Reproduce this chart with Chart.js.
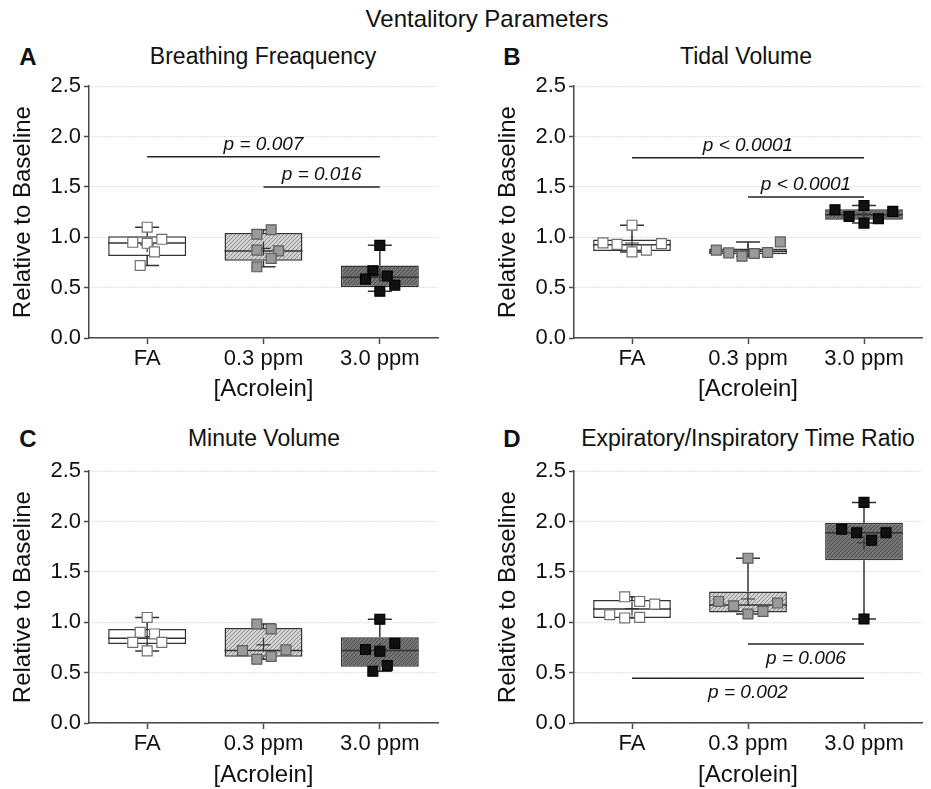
<!DOCTYPE html>
<html>
<head>
<meta charset="utf-8">
<title>Ventalitory Parameters</title>
<script src="https://cdn.jsdelivr.net/npm/chart.js@4.4.1/dist/chart.umd.min.js"></script>
<style>
    html, body { margin: 0; padding: 0; background: #fff; }
    body {
        width: 931px; height: 789px; position: relative; overflow: hidden;
        font-family: "Liberation Sans", Arial, sans-serif; color: #111;
    }
    .lbl    { position: absolute; transform: translate(-50%, -50%); line-height: 1; white-space: nowrap; }
    .main   { font-size: 24px; }
    .ptitle { font-size: 23px; }
    .letter { font-size: 24px; font-weight: bold; }
    .panel  { position: absolute; }
    .panel canvas { display: block; }
</style>
</head>
<body>

<div class="lbl main" style="left:487px; top:19px;">Ventalitory Parameters</div>

<div class="lbl letter" style="left:28px;  top:57px;">A</div>
<div class="lbl ptitle" style="left:263px; top:56px;">Breathing Freaquency</div>
<div class="lbl letter" style="left:512px; top:57px;">B</div>
<div class="lbl ptitle" style="left:746px; top:56px;">Tidal Volume</div>
<div class="lbl letter" style="left:28px;  top:439px;">C</div>
<div class="lbl ptitle" style="left:264px; top:438px;">Minute Volume</div>
<div class="lbl letter" style="left:512px; top:439px;">D</div>
<div class="lbl ptitle" style="left:748px; top:438px;">Expiratory/Inspiratory Time Ratio</div>

<div class="panel" style="left:0;     top:70px;"><canvas id="chartA" width="450" height="334"></canvas></div>
<div class="panel" style="left:485px; top:70px;"><canvas id="chartB" width="446" height="334"></canvas></div>
<div class="panel" style="left:0;     top:455px;"><canvas id="chartC" width="450" height="335"></canvas></div>
<div class="panel" style="left:485px; top:455px;"><canvas id="chartD" width="446" height="335"></canvas></div>

<script>
'use strict';

// ── dados ───────────────────────────────────────────────────────────────────
const GROUPS = ['FA', '0.3 ppm', '3.0 ppm'];
const Y_MIN  = 0;
const Y_MAX  = 2.5;
const Y_STEP = 0.5;

// A · Breathing frequency (one array per group, then its horizontal spread)
const BF_POINTS = [
    [1.10, 0.95, 0.94, 0.98, 0.855, 0.72],
    [1.03, 1.075, 0.872, 0.865, 0.79, 0.707],
    [0.92, 0.667, 0.585, 0.615, 0.523, 0.464],
];
const BF_SPREAD = [
    [0, -0.124, 0, 0.126, 0.063, -0.06],
    [-0.057, 0.066, -0.057, 0.129, 0.066, -0.057],
    [0, -0.06, -0.123, 0.064, 0.129, 0],
];
const BF_Q1     = [0.815, 0.766, 0.506];
const BF_MEDIAN = [0.944, 0.865, 0.602];
const BF_Q3     = [1.01, 1.043, 0.72];

// B · Tidal volume
const TV_POINTS = [
    [0.944, 0.93, 1.12, 0.855, 0.872, 0.937],
    [0.872, 0.845, 0.812, 0.839, 0.849, 0.954],
    [1.273, 1.207, 1.316, 1.141, 1.184, 1.257],
];
const TV_SPREAD = [
    [-0.25, -0.129, 0, 0, 0.124, 0.254],
    [-0.273, -0.166, -0.052, 0.054, 0.169, 0.279],
    [-0.25, -0.129, 0, 0, 0.124, 0.248],
];
const TV_Q1     = [0.865, 0.832, 1.175];
const TV_MEDIAN = [0.925, 0.862, 1.224];
const TV_Q3     = [0.977, 0.888, 1.279];

// C · Minute volume
const MV_POINTS = [
    [1.048, 0.90, 0.884, 0.80, 0.80, 0.716],
    [0.983, 0.934, 0.719, 0.726, 0.633, 0.66],
    [1.03, 0.729, 0.712, 0.791, 0.571, 0.514],
];
const MV_SPREAD = [
    [0, -0.06, 0.063, -0.124, 0.126, 0],
    [-0.057, 0.066, -0.181, 0.193, -0.057, 0.066],
    [0, -0.123, 0, 0.129, 0.064, -0.06],
];
const MV_Q1     = [0.785, 0.657, 0.558];
const MV_MEDIAN = [0.841, 0.719, 0.719];
const MV_Q3     = [0.934, 0.944, 0.851];

// D · Expiratory/inspiratory time ratio
const EI_POINTS = [
    [1.253, 1.207, 1.181, 1.075, 1.043, 1.049],
    [1.636, 1.207, 1.164, 1.082, 1.108, 1.191],
    [2.19, 1.923, 1.889, 1.814, 1.889, 1.033],
];
const EI_SPREAD = [
    [-0.063, 0.066, 0.196, -0.192, -0.063, 0.066],
    [0, -0.253, -0.124, 0, 0.129, 0.255],
    [0, -0.192, -0.063, 0.066, 0.19, 0],
];
const EI_Q1     = [1.043, 1.098, 1.616];
const EI_MEDIAN = [1.132, 1.171, 1.889];
const EI_Q3     = [1.22, 1.306, 1.988];

// p-value bars: from group, to group, height, label, label side
const BF_SIG = [
    [0, 2, 1.80, 'p = 0.007', 'above'],
    [1, 2, 1.50, 'p = 0.016', 'above'],
];
const TV_SIG = [
    [0, 2, 1.79, 'p < 0.0001', 'above'],
    [1, 2, 1.40, 'p < 0.0001', 'above'],
];
const MV_SIG = [];
const EI_SIG = [
    [1, 2, 0.785, 'p = 0.006', 'below'],
    [0, 2, 0.445, 'p = 0.002', 'below'],
];

// ── estilo ──────────────────────────────────────────────────────────────────
const FONT       = '"Liberation Sans", Arial, sans-serif';
const TEXT_COLOR = '#111111';
const AXIS_COLOR = '#4a4a4a';
const GRID_COLOR = '#c4c4c4';
const LINE_COLOR = '#333333';
const MARK_FILL  = ['#ffffff', '#9a9a9a', '#111111'];
const MARK_EDGE  = ['#707070', '#5c5c5c', '#000000'];
const CAP        = 12;

function hatch(base, line) {
    const s = 4;
    const c = document.createElement('canvas');
    c.width = s;
    c.height = s;
    const g = c.getContext('2d');
    g.fillStyle = base;
    g.fillRect(0, 0, s, s);
    g.strokeStyle = line;
    g.lineWidth = 1;
    g.beginPath();
    g.moveTo(0, s);        g.lineTo(s, 0);
    g.moveTo(-s / 2, s / 2); g.lineTo(s / 2, -s / 2);
    g.moveTo(s / 2, s * 1.5); g.lineTo(s * 1.5, s / 2);
    g.stroke();
    return g.createPattern(c, 'repeat');
}

const BOX_FILL = ['#ffffff', hatch('#d4d4d4', '#8a8a8a'), hatch('#757575', '#4c4c4c')];

// ── whiskers, median, mean and p-value bars ────────────────────────────────
function boxExtras(points, medians, sig) {
    return {
        id: 'boxExtras',
        afterDatasetDraw(chart, args) {
            if (args.index !== 0) return;
            const { ctx } = chart;
            const x = chart.scales.x;
            const y = chart.scales.y;
            const bars = chart.getDatasetMeta(0).data;
            const box = chart.data.datasets[0].data;

            ctx.save();
            ctx.strokeStyle = LINE_COLOR;
            ctx.lineWidth = 1.5;
            points.forEach((pts, i) => {
                const cx   = x.getPixelForValue(i);
                const half = bars[i].width / 2;
                const lo   = Math.min(...pts);
                const hi   = Math.max(...pts);
                const mean = pts.reduce((a, b) => a + b, 0) / pts.length;
                const [q1, q3] = box[i];

                ctx.beginPath();
                ctx.moveTo(cx, y.getPixelForValue(q3)); ctx.lineTo(cx, y.getPixelForValue(hi));
                ctx.moveTo(cx, y.getPixelForValue(q1)); ctx.lineTo(cx, y.getPixelForValue(lo));
                [lo, hi].forEach(v => {
                    const py = y.getPixelForValue(v);
                    ctx.moveTo(cx - CAP, py);
                    ctx.lineTo(cx + CAP, py);
                });
                const pm = y.getPixelForValue(medians[i]);
                ctx.moveTo(cx - half, pm);
                ctx.lineTo(cx + half, pm);
                ctx.stroke();

                // mean as a "+"
                const pmean = y.getPixelForValue(mean);
                ctx.lineWidth = 1.2;
                ctx.beginPath();
                ctx.moveTo(cx - 7, pmean); ctx.lineTo(cx + 7, pmean);
                ctx.moveTo(cx, pmean - 7); ctx.lineTo(cx, pmean + 7);
                ctx.stroke();
                ctx.lineWidth = 1.5;
            });
            ctx.restore();
        },
        afterDraw(chart) {
            const { ctx } = chart;
            const x = chart.scales.x;
            const y = chart.scales.y;
            ctx.save();
            ctx.strokeStyle = '#222';
            ctx.lineWidth = 1.5;
            ctx.fillStyle = TEXT_COLOR;
            ctx.font = `italic 19px ${FONT}`;
            ctx.textAlign = 'center';
            ctx.textBaseline = 'alphabetic';
            sig.forEach(([from, to, level, text, side]) => {
                const x1 = x.getPixelForValue(from);
                const x2 = x.getPixelForValue(to);
                const py = y.getPixelForValue(level);
                ctx.beginPath();
                ctx.moveTo(x1, py);
                ctx.lineTo(x2, py);
                ctx.stroke();
                const ty = side === 'above' ? py - 7 : py + 20;
                ctx.fillText(text, (x1 + x2) / 2, ty);
            });
            ctx.restore();
        },
    };
}

// ── painel ──────────────────────────────────────────────────────────────────
function painel(id, points, spread, q1, q3, medians, sig, xTitleHeight, padRight) {
    // box first in the drawing order (higher order = drawn underneath)
    const datasets = [{
        type: 'bar',
        xAxisID: 'x',
        order: 2,
        data: q1.map((v, i) => [v, q3[i]]),
        backgroundColor: BOX_FILL,
        borderColor: LINE_COLOR,
        borderWidth: 1.5,
        borderSkipped: false,
        grouped: false,
        barPercentage: 0.67,
        categoryPercentage: 1.0,
    }];

    points.forEach((pts, g) => {
        datasets.push({
            type: 'scatter',
            xAxisID: 'xj',
            order: 1,
            data: pts.map((v, k) => ({ x: g + spread[g][k], y: v })),
            pointStyle: 'rect',
            pointRadius: 7,
            pointBackgroundColor: MARK_FILL[g],
            pointBorderColor: MARK_EDGE[g],
            pointBorderWidth: 1.2,
            showLine: false,
        });
    });

    return new Chart(document.getElementById(id), {
        type: 'bar',
        data: { labels: GROUPS, datasets },
        options: {
            responsive: false,
            animation: false,
            events: [],
            layout: { padding: { top: 15, right: padRight, left: 0, bottom: 0 } },
            plugins: { legend: { display: false }, tooltip: { enabled: false } },
            scales: {
                x: {
                    type: 'category',
                    position: 'bottom',
                    offset: true,
                    grid: {
                        offset: false, drawOnChartArea: false, drawTicks: true,
                        tickLength: 6, tickColor: AXIS_COLOR, tickWidth: 1.5,
                    },
                    border: { display: true, color: AXIS_COLOR, width: 1.5 },
                    ticks: { font: { family: FONT, size: 22 }, color: TEXT_COLOR, padding: 2, maxRotation: 0 },
                    title: {
                        display: true, text: '[Acrolein]', color: TEXT_COLOR,
                        font: { family: FONT, size: 24 }, padding: { top: 0, bottom: 0 },
                    },
                    afterFit: s => { s.height = xTitleHeight; },
                },
                // hidden twin of x, so the points can sit beside the group centre
                xj: {
                    type: 'linear', position: 'bottom', display: false,
                    offset: false, min: -0.5, max: 2.5,
                },
                y: {
                    min: Y_MIN,
                    max: Y_MAX,
                    ticks: {
                        stepSize: Y_STEP, callback: v => v.toFixed(1),
                        font: { family: FONT, size: 22 }, color: TEXT_COLOR, padding: 3,
                    },
                    grid: { color: GRID_COLOR, lineWidth: 1, tickColor: AXIS_COLOR, tickLength: 5, tickWidth: 1.5 },
                    border: { display: true, color: AXIS_COLOR, width: 1.5, dash: [1, 2] },
                    title: {
                        display: true, text: 'Relative to Baseline', color: TEXT_COLOR,
                        font: { family: FONT, size: 24 }, padding: { top: 9, bottom: 0 },
                    },
                    afterFit: s => { s.width = 89; },
                },
            },
        },
        plugins: [boxExtras(points, medians, sig)],
    });
}

// ── init ────────────────────────────────────────────────────────────────────
painel('chartA', BF_POINTS, BF_SPREAD, BF_Q1, BF_Q3, BF_MEDIAN, BF_SIG, 66, 12);
painel('chartB', TV_POINTS, TV_SPREAD, TV_Q1, TV_Q3, TV_MEDIAN, TV_SIG, 66, 9);
painel('chartC', MV_POINTS, MV_SPREAD, MV_Q1, MV_Q3, MV_MEDIAN, MV_SIG, 67, 12);
painel('chartD', EI_POINTS, EI_SPREAD, EI_Q1, EI_Q3, EI_MEDIAN, EI_SIG, 67, 9);
</script>
</body>
</html>
